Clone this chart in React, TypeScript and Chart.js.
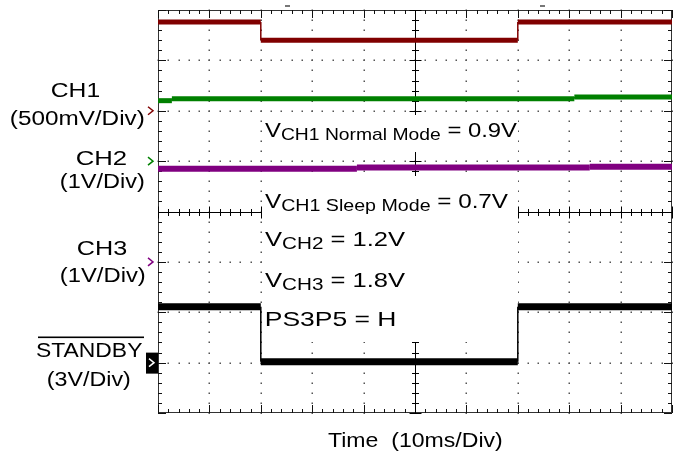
import React, { useEffect, useRef } from 'react';
import { Chart, registerables } from 'chart.js';

Chart.register(...registerables);

// ---- data (time in ms, values in volts) ----
const CH1_T = [0, 20, 20, 70, 70, 100];
const CH1_V = [0.88, 0.88, 0.70, 0.70, 0.88, 0.88];
const CH2_T = [0, 2.7, 2.7, 81, 81, 100];
const CH2_V = [1.20, 1.20, 1.24, 1.24, 1.275, 1.275];
const CH3_T = [0, 38.7, 38.7, 84, 84, 100];
const CH3_V = [1.85, 1.85, 1.875, 1.875, 1.89, 1.89];
const STBY_T = [0, 20, 20, 70, 70, 100];
const STBY_V = [3.33, 3.33, 0.05, 0.05, 3.33, 3.33];

const CHANNEL_NAMES = ['CH1', 'CH2', 'CH3', 'STANDBY'];
const CHANNEL_SCALES = ['(500mV/Div)', '(1V/Div)', '(1V/Div)', '(3V/Div)'];
const VOLTS_PER_DIV = [0.5, 1, 1, 3];
const GROUND_DIV = [2, 1, -1, -3];
const TIME_PER_DIV_MS = 10;
const X_DIVS = 10;
const Y_DIVS = 8;
const X_TITLE = 'Time  (10ms/Div)';

const NOTE_LINES: { t: string; sub: boolean }[][] = [
  [{ t: 'V', sub: false }, { t: 'CH1 Normal Mode', sub: true }, { t: ' = 0.9V', sub: false }],
  [{ t: 'V', sub: false }, { t: 'CH1 Sleep Mode', sub: true }, { t: ' = 0.7V', sub: false }],
  [{ t: 'V', sub: false }, { t: 'CH2', sub: true }, { t: ' = 1.2V', sub: false }],
  [{ t: 'V', sub: false }, { t: 'CH3', sub: true }, { t: ' = 1.8V', sub: false }],
  [{ t: 'PS3P5 = H', sub: false }],
];

// ---- styles ----
const FONT = '"Liberation Sans", Arial, Helvetica, sans-serif';
const COLORS = ['#800000', '#008000', '#800080', '#000000'];
const WIDTHS = [5, 5, 6, 7];

function fitText(ctx: CanvasRenderingContext2D, text: string, size: number, x0: number, x1: number, base: number) {
  ctx.font = `${size}px ${FONT}`;
  const m = ctx.measureText(text);
  const ink = m.actualBoundingBoxLeft + m.actualBoundingBoxRight;
  const s = (x1 - x0) / ink;
  ctx.save();
  ctx.translate(x0, base);
  ctx.scale(s, 1);
  ctx.textAlign = 'left';
  ctx.textBaseline = 'alphabetic';
  ctx.fillText(text, m.actualBoundingBoxLeft, 0);
  ctx.restore();
}

function richText(ctx: CanvasRenderingContext2D, segs: { t: string; sub: boolean }[], x0: number, x1: number, base: number) {
  const big = 21, small = 17, dy = 3;
  let cx = 0;
  let inkLeft = 0, inkRight = 0;
  const pos: number[] = [];
  segs.forEach((s, i) => {
    ctx.font = `${s.sub ? small : big}px ${FONT}`;
    const m = ctx.measureText(s.t);
    if (i === 0) inkLeft = -m.actualBoundingBoxLeft;
    pos.push(cx);
    inkRight = cx + m.actualBoundingBoxRight;
    cx += m.width;
  });
  const sc = (x1 - x0) / (inkRight - inkLeft);
  ctx.save();
  ctx.translate(x0, base);
  ctx.scale(sc, 1);
  ctx.translate(-inkLeft, 0);
  ctx.textAlign = 'left';
  ctx.textBaseline = 'alphabetic';
  segs.forEach((s, i) => {
    ctx.font = `${s.sub ? small : big}px ${FONT}`;
    ctx.fillText(s.t, pos[i], s.sub ? dy : 0);
  });
  ctx.restore();
}

const scopePlugin = {
  id: 'scope',
  beforeDatasetsDraw(chart: any) {
    const ctx: CanvasRenderingContext2D = chart.ctx;
    const { left, right, top, bottom } = chart.chartArea;
    const xs = chart.scales.x;
    const gs = chart.scales.div;
    const xMax = X_DIVS * TIME_PER_DIV_MS;
    ctx.save();
    // dotted graticule
    ctx.fillStyle = '#555';
    for (let i = 1; i < X_DIVS; i++) {
      if (i === X_DIVS / 2) continue;
      const x = Math.round(xs.getPixelForValue(i * TIME_PER_DIV_MS));
      for (let j = 0; j <= Y_DIVS * 5; j++) {
        const y = Math.round(gs.getPixelForValue(-Y_DIVS / 2 + j * 0.2));
        ctx.fillRect(x - 0.5, y - 0.5, 1.5, 1.5);
      }
    }
    for (let k = -Y_DIVS / 2 + 1; k < Y_DIVS / 2; k++) {
      if (k === 0) continue;
      const y = Math.round(gs.getPixelForValue(k));
      for (let j = 0; j <= X_DIVS * 5; j++) {
        const x = Math.round(xs.getPixelForValue((j * TIME_PER_DIV_MS) / 5));
        ctx.fillRect(x - 0.5, y - 0.5, 1.5, 1.5);
      }
    }
    // frame
    ctx.strokeStyle = '#333';
    ctx.lineWidth = 1;
    ctx.strokeRect(left + 0.5, top + 0.5, right - left - 1, bottom - top - 1);
    ctx.strokeStyle = '#111';
    ctx.beginPath();
    for (let j = 0; j <= X_DIVS * 5; j++) {
      const x = Math.round(xs.getPixelForValue((j * xMax) / (X_DIVS * 5))) + 0.5;
      const len = j % 5 === 0 ? 8 : 4;
      ctx.moveTo(x, top); ctx.lineTo(x, top + len);
      ctx.moveTo(x, bottom); ctx.lineTo(x, bottom - len);
    }
    for (let j = 0; j <= Y_DIVS * 5; j++) {
      const y = Math.round(gs.getPixelForValue(-Y_DIVS / 2 + j * 0.2)) + 0.5;
      const len = j % 5 === 0 ? 8 : 4;
      ctx.moveTo(left, y); ctx.lineTo(left + len, y);
      ctx.moveTo(right, y); ctx.lineTo(right - len, y);
    }
    ctx.stroke();
    // center cross lines
    const cxp = Math.round(xs.getPixelForValue(xMax / 2)) + 0.5;
    const cyp = Math.round(gs.getPixelForValue(0)) + 0.5;
    ctx.strokeStyle = '#000';
    ctx.beginPath();
    ctx.moveTo(cxp, top); ctx.lineTo(cxp, bottom);
    ctx.moveTo(left, cyp); ctx.lineTo(right, cyp);
    for (let j = 0; j <= Y_DIVS * 5; j++) {
      const y = Math.round(gs.getPixelForValue(-Y_DIVS / 2 + j * 0.2)) + 0.5;
      const h = j % 5 === 0 ? 6 : 3.5;
      ctx.moveTo(cxp - h, y); ctx.lineTo(cxp + h, y);
    }
    for (let j = 0; j <= X_DIVS * 5; j++) {
      const x = Math.round(xs.getPixelForValue((j * xMax) / (X_DIVS * 5))) + 0.5;
      const h = j % 5 === 0 ? 6 : 3.5;
      ctx.moveTo(x, cyp - h); ctx.lineTo(x, cyp + h);
    }
    ctx.stroke();
    // small markers above top frame
    ctx.fillStyle = '#777';
    ctx.fillRect(285, 5, 5, 2);
    ctx.fillRect(540, 5, 5, 2);
    // white boxes behind annotations
    ctx.fillStyle = '#fff';
    ctx.fillRect(262, 115, 256, 37);
    ctx.fillRect(262, 176, 256, 166);
    ctx.restore();
  },
  afterDatasetsDraw(chart: any) {
    const ctx: CanvasRenderingContext2D = chart.ctx;
    ctx.save();
    ctx.fillStyle = '#000';
    // annotations
    const noteBox: [number, number, number][] = [
      [265, 517, 137], [265, 508, 207.5], [265, 405, 246], [265, 405, 286.5], [266, 395, 326],
    ];
    NOTE_LINES.forEach((segs, i) => {
      const [a, b, base] = noteBox[i];
      richText(ctx, segs, a, b, base);
    });
    // left labels
    const namePos: [number, number, number][] = [
      [52, 100, 96.7], [77, 127, 165], [78, 127, 255], [36, 142, 357.3],
    ];
    const scalePos: [number, number, number][] = [
      [11, 144, 125], [61, 144, 188.3], [61, 145, 281.7], [48, 130, 386],
    ];
    CHANNEL_NAMES.forEach((n, i) => {
      fitText(ctx, n, 20, namePos[i][0], namePos[i][1], namePos[i][2]);
      fitText(ctx, CHANNEL_SCALES[i], 20, scalePos[i][0], scalePos[i][1], scalePos[i][2]);
    });
    // overline on STANDBY
    ctx.fillRect(38, 336.5, 106, 1.6);
    // x title
    fitText(ctx, X_TITLE, 20, 328, 502, 447);
    // ground markers
    ['y1', 'y2', 'y3'].forEach((id, i) => {
      const c = chart.scales[id].getPixelForValue(0);
      ctx.strokeStyle = COLORS[i];
      ctx.lineWidth = 1.5;
      ctx.beginPath();
      ctx.moveTo(148, c - 4); ctx.lineTo(153, c); ctx.lineTo(148, c + 4);
      ctx.stroke();
    });
    const c4 = chart.scales.y4.getPixelForValue(0);
    ctx.fillStyle = '#000';
    ctx.fillRect(146, c4 - 10, 12, 21);
    ctx.strokeStyle = '#fff';
    ctx.lineWidth = 1.5;
    ctx.beginPath();
    ctx.moveTo(149, c4 - 4); ctx.lineTo(154, c4); ctx.lineTo(149, c4 + 4);
    ctx.stroke();
    ctx.restore();
  },
};

function makeSet(label: string, T: number[], V: number[], axis: string, i: number) {
  return {
    label,
    data: T.map((t, k) => ({ x: t, y: V[k] })),
    yAxisID: axis,
    borderColor: COLORS[i],
    borderWidth: WIDTHS[i],
    borderCapStyle: 'butt',
    pointRadius: 0,
    fill: false,
    tension: 0,
    segment: {
      borderWidth: (c: any) => (c.p0.parsed.x === c.p1.parsed.x ? 1.5 : undefined),
    },
  };
}

function chanScale(i: number) {
  return {
    type: 'linear',
    axis: 'y',
    display: false,
    min: (-Y_DIVS / 2 - GROUND_DIV[i]) * VOLTS_PER_DIV[i],
    max: (Y_DIVS / 2 - GROUND_DIV[i]) * VOLTS_PER_DIV[i],
  };
}

export default function App() {
  const ref = useRef<HTMLCanvasElement | null>(null);
  useEffect(() => {
    if (!ref.current) return;
    const chart = new Chart(ref.current, {
      type: 'line',
      data: {
        datasets: [
          makeSet(CHANNEL_NAMES[0], CH1_T, CH1_V, 'y1', 0),
          makeSet(CHANNEL_NAMES[1], CH2_T, CH2_V, 'y2', 1),
          makeSet(CHANNEL_NAMES[2], CH3_T, CH3_V, 'y3', 2),
          makeSet(CHANNEL_NAMES[3], STBY_T, STBY_V, 'y4', 3),
        ] as any,
      },
      options: {
        animation: false,
        responsive: false,
        devicePixelRatio: 1,
        layout: { padding: { left: 158, right: 11, top: 10, bottom: 43 } },
        plugins: { legend: { display: false }, tooltip: { enabled: false } },
        scales: {
          x: { type: 'linear', display: false, min: 0, max: X_DIVS * TIME_PER_DIV_MS },
          div: { type: 'linear', axis: 'y', display: false, min: -Y_DIVS / 2, max: Y_DIVS / 2 },
          y1: chanScale(0),
          y2: chanScale(1),
          y3: chanScale(2),
          y4: chanScale(3),
        } as any,
      },
      plugins: [scopePlugin as any],
    });
    return () => chart.destroy();
  }, []);
  return (
    <div style={{ position: 'absolute', left: 0, top: 0, width: 683, height: 456, background: '#fff' }}>
      <canvas ref={ref} width={683} height={456} style={{ display: 'block' }} />
    </div>
  );
}
